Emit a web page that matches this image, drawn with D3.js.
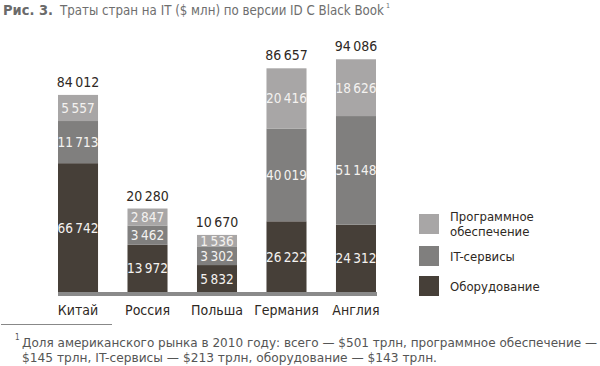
<!DOCTYPE html>
<html><head><meta charset="utf-8">
<script src="https://cdn.jsdelivr.net/npm/d3@7"></script>
<style>
html,body{margin:0;padding:0;background:#fff;}
svg{display:block;}
text{font-family:"Liberation Sans Narrow","DejaVu Sans Condensed","Roboto",sans-serif;}
</style></head>
<body>
<svg id="chart" width="600" height="366"></svg>
<script>
const countries = ["Китай", "Россия", "Польша", "Германия", "Англия"];
const seriesNames = ["Оборудование", "IT-сервисы", "Программное обеспечение"];
const hardware = [66742, 13972, 5832, 26222, 24312];
const itServices = [11713, 3462, 3302, 40019, 51148];
const software = [5557, 2847, 1536, 20416, 18626];
const totals = [84012, 20280, 10670, 86657, 94086];
const colors = ["#463f38", "#807f7e", "#a8a6a6"];

const svg = d3.select("#chart");
const fmt = d3.formatLocale({decimal: ",", thousands: "\u2009", grouping: [3], currency: ["", ""]}).format(",d");

const baseY = 292;
const x = d3.scaleBand().domain(countries).range([58, 376]).paddingInner(0.424).paddingOuter(0);
// the original figure is not drawn to a linear scale; a power scale approximates its segment heights
const h = d3.scalePow().exponent(0.642).domain([0, 100000]).range([0, 167]);

const series = [hardware, itServices, software];

countries.forEach((c, i) => {
  let acc = 0;
  series.forEach((s, k) => {
    const hh = h(s[i]);
    const y0 = baseY - acc - hh;
    svg.append("rect")
      .attr("x", x(c)).attr("y", y0)
      .attr("width", x.bandwidth()).attr("height", hh)
      .attr("fill", colors[k]);
    svg.append("text")
      .attr("x", x(c) + x.bandwidth() / 2).attr("y", y0 + hh / 2 + 5)
      .attr("text-anchor", "middle").attr("font-size", 13.5)
      .attr("fill", "#f4f2f0").text(fmt(s[i]));
    acc += hh;
  });
  svg.append("text")
    .attr("x", x(c) + x.bandwidth() / 2).attr("y", baseY - acc - 8)
    .attr("text-anchor", "middle").attr("font-size", 14)
    .attr("fill", "#2e2823").text(fmt(totals[i]));
  svg.append("text")
    .attr("x", x(c) + x.bandwidth() / 2).attr("y", 315)
    .attr("text-anchor", "middle").attr("font-size", 14)
    .attr("fill", "#2e2823").text(c);
});

// baseline bar
svg.append("rect").attr("x", x.range()[0]).attr("y", baseY)
  .attr("width", x.range()[1] - x.range()[0] + 1).attr("height", 4).attr("fill", "#8a8a8a");

// title
svg.append("text").attr("x", 3).attr("y", 15).attr("font-size", 14).attr("font-weight", "bold")
  .attr("fill", "#6a6a6a").attr("textLength", 50).attr("lengthAdjust", "spacingAndGlyphs").text("Рис. 3.");
svg.append("text").attr("x", 60).attr("y", 15).attr("font-size", 13.2)
  .attr("fill", "#6e6e6e")
  .text("Траты стран на IT ($ млн) по версии ID C Black Book");
svg.append("text").attr("x", 386).attr("y", 8).attr("font-size", 7).attr("fill", "#6e6e6e").text("1");

// legend
const legendRows = [
  {name: ["Программное", "обеспечение"], color: colors[2], y: 214},
  {name: ["IT-сервисы"], color: colors[1], y: 246},
  {name: ["Оборудование"], color: colors[0], y: 276}
];
legendRows.forEach(r => {
  svg.append("rect").attr("x", 419).attr("y", r.y).attr("width", 20).attr("height", 20).attr("fill", r.color);
  if (r.name.length === 2) {
    svg.append("text").attr("x", 450).attr("y", r.y + 7).attr("font-size", 13).attr("fill", "#2e2823").text(r.name[0]);
    svg.append("text").attr("x", 450).attr("y", r.y + 22).attr("font-size", 13).attr("fill", "#2e2823").text(r.name[1]);
  } else {
    svg.append("text").attr("x", 450).attr("y", r.y + 15).attr("font-size", 13).attr("fill", "#2e2823").text(r.name[0]);
  }
});

// footnote
svg.append("line").attr("x1", 1).attr("x2", 112).attr("y1", 324.5).attr("y2", 324.5)
  .attr("stroke", "#888").attr("stroke-width", 1);
svg.append("text").attr("x", 15).attr("y", 340).attr("font-size", 8).attr("fill", "#555").text("1");
svg.append("text").attr("x", 22).attr("y", 347).attr("font-size", 13).attr("fill", "#555")
  .attr("textLength", 575).attr("lengthAdjust", "spacingAndGlyphs")
  .text("Доля американского рынка в 2010 году: всего — $501 трлн, программное обеспечение —");
svg.append("text").attr("x", 22).attr("y", 362).attr("font-size", 13).attr("fill", "#555")
  .attr("textLength", 415).attr("lengthAdjust", "spacingAndGlyphs")
  .text("$145 трлн, IT-сервисы — $213 трлн, оборудование — $143 трлн.");
</script>
</body></html>
